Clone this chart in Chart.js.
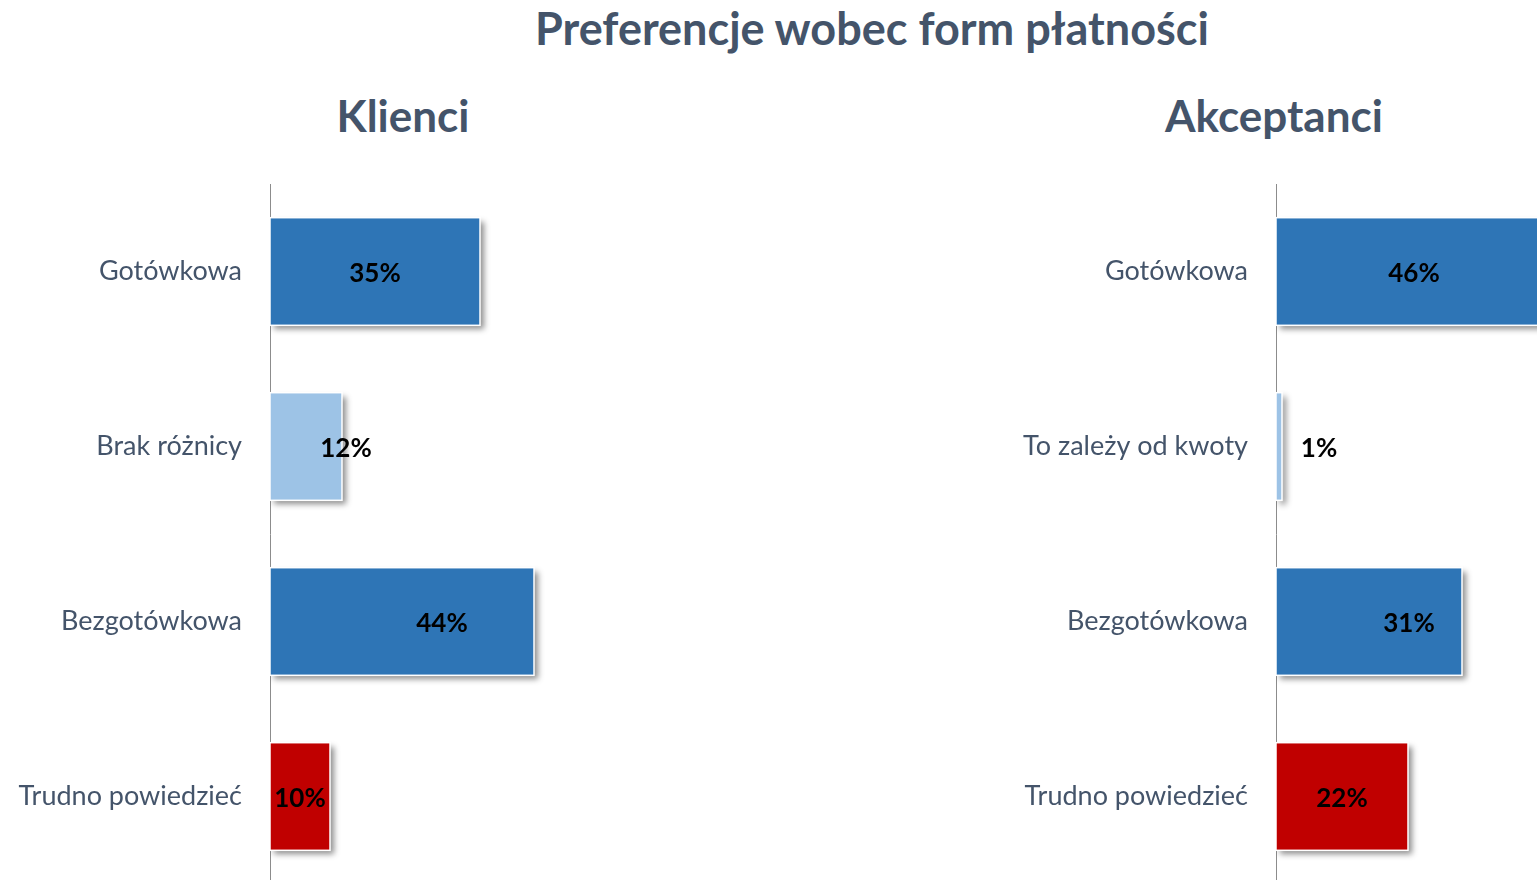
<!DOCTYPE html>
<html lang="pl">
<head>
<meta charset="UTF-8">
<title>Preferencje wobec form płatności</title>
<script src="https://cdn.jsdelivr.net/npm/chart.js"></script>
<style>
    body {
        margin: 0;
        width: 1537px;
        height: 880px;
        overflow: hidden;
        background: #ffffff;
        font-family: Lato, sans-serif;
        position: relative;
    }
    .title {
        position: absolute;
        left: 0; width: 1744px;
        top: 1px;
        text-align: center;
        font-size: 45px;
        font-weight: bold;
        color: #44546A;
    }
    .sub {
        position: absolute;
        top: 89px;
        width: 600px;
        text-align: center;
        font-size: 44px;
        font-weight: bold;
        color: #44546A;
    }
    .box { position: absolute; top: 184px; height: 700px; }
</style>
</head>
<body>
<div class="title">Preferencje wobec form płatności</div>
<div class="sub" style="left:103px">Klienci</div>
<div class="sub" style="left:974px">Akceptanci</div>
<div class="box" style="left:0;width:770px"><canvas id="klienci"></canvas></div>
<div class="box" style="left:1000px;width:537px"><canvas id="akceptanci"></canvas></div>

<script>
    // dane
    const kategorieKlienci = ["Gotówkowa", "Brak różnicy", "Bezgotówkowa", "Trudno powiedzieć"];
    const wartosciKlienci = [35, 12, 44, 10];
    const kategorieAkceptanci = ["Gotówkowa", "To zależy od kwoty", "Bezgotówkowa", "Trudno powiedzieć"];
    const wartosciAkceptanci = [46, 1, 31, 22];
    const kolory = ["#2E75B6", "#9DC3E6", "#2E75B6", "#C00000"];

    // przesunięcie etykiet w poziomie (jak w oryginale)
    const przesuniecieEtykiet = [0, 40, 40, 0];

    const cien = {
        id: "cien",
        beforeDatasetsDraw(chart) {
            const ctx = chart.ctx;
            ctx.save();
            ctx.shadowColor = "rgba(0,0,0,0.45)";
            ctx.shadowOffsetX = 4;
            ctx.shadowOffsetY = 4;
            ctx.shadowBlur = 6;
        },
        afterDatasetsDraw(chart) {
            const ctx = chart.ctx;
            ctx.restore();
            const meta = chart.getDatasetMeta(0);
            ctx.save();
            ctx.strokeStyle = "#ffffff";
            ctx.lineWidth = 1.5;
            meta.data.forEach(bar => {
                const p = bar.getProps(["x", "y", "base", "height"], true);
                ctx.strokeRect(p.base, p.y - p.height / 2, p.x - p.base, p.height);
            });
            // etykiety
            ctx.font = "bold 26px Lato";
            ctx.fillStyle = "#000000";
            ctx.textAlign = "center";
            ctx.textBaseline = "middle";
            meta.data.forEach((bar, i) => {
                const p = bar.getProps(["x", "y", "base"], true);
                const x = (p.x + p.base) / 2 + przesuniecieEtykiet[i];
                ctx.fillText(chart.data.datasets[0].data[i] + "%", x, p.y + 2);
            });
            ctx.restore();
        }
    };

    function wykres(id, kategorie, wartosci, szerOsi, maks) {
        return new Chart(document.getElementById(id), {
            type: "bar",
            data: {
                labels: kategorie,
                datasets: [{
                    data: wartosci,
                    backgroundColor: kolory,
                    borderWidth: 0,
                    categoryPercentage: 1,
                    barPercentage: 0.615
                }]
            },
            options: {
                indexAxis: "y",
                responsive: true,
                maintainAspectRatio: false,
                animation: false,
                layout: { padding: 0 },
                plugins: { legend: { display: false }, tooltip: { enabled: false } },
                scales: {
                    x: { display: false, min: 0, max: maks },
                    y: {
                        afterFit(scale) {
                            scale.width = szerOsi;
                            scale.paddingTop = 0;
                            scale.paddingBottom = 0;
                        },
                        grid: { display: false, drawTicks: false },
                        border: { display: true, color: "#8c8c8c", width: 1 },
                        ticks: { color: "#44546A", font: { family: "Lato", size: 27 }, padding: 28 }
                    }
                }
            },
            plugins: [cien]
        });
    }

    wykres("klienci", kategorieKlienci, wartosciKlienci, 270, 500 / 6);
    wykres("akceptanci", kategorieAkceptanci, wartosciAkceptanci, 276, 261 / 6);
</script>
</body>
</html>
